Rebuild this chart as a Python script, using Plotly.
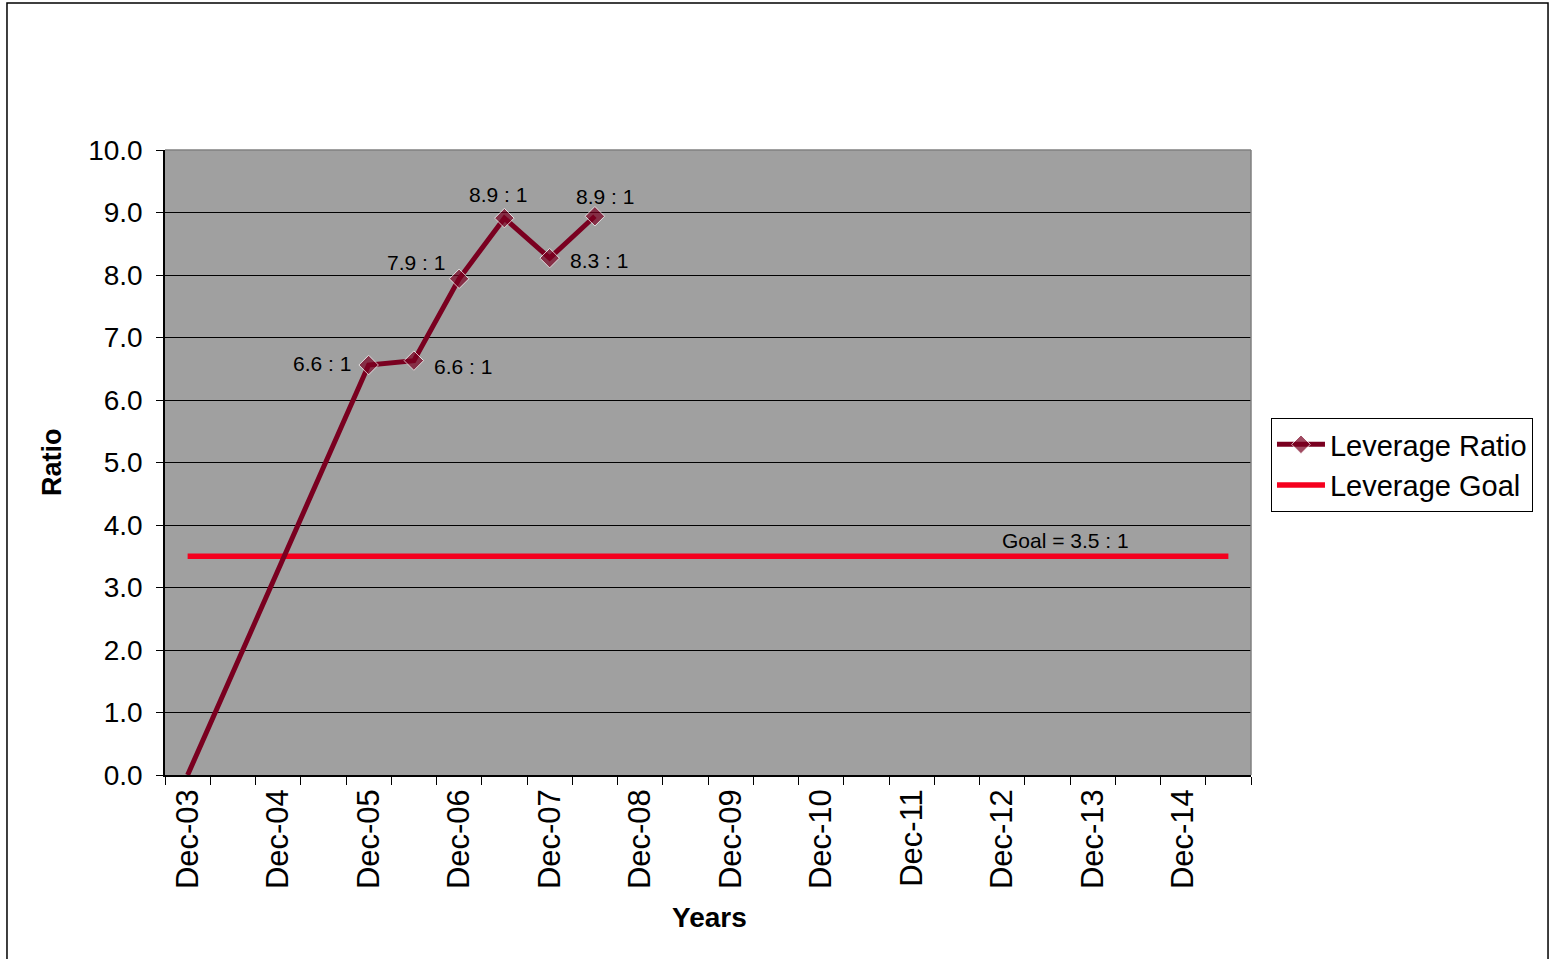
import plotly.graph_objects as go

# Half-yearly periods, Dec-03 through Jun-15
periods = []
for yr in range(3, 16):
    if yr > 3:
        periods.append(f"Jun-{yr:02d}")
    if yr < 15:
        periods.append(f"Dec-{yr:02d}")

# Leverage ratio observations (None = no reading for that period)
leverage_ratio = [0.0, None, None, None, 6.56, 6.63, 7.94, 8.91, 8.27, 8.94,
                  None, None, None, None, None, None, None, None, None, None,
                  None, None, None, None]
goal_value = 3.5
leverage_goal = [goal_value] * len(periods)

# Per-point data-label placement (x shift, y shift, anchor)
label_style = {
    4: (-16, 2, "right"),
    5: (18, -6, "left"),
    6: (-12, 16, "right"),
    7: (-6, 24, "center"),
    8: (18, -2, "left"),
    9: (10, 20, "center"),
}

MAROON = "#7A0020"
RED = "#F5001E"
FONT = "Liberation Sans, Arial, sans-serif"

x_idx = list(range(len(periods)))

fig = go.Figure()

fig.add_trace(go.Scatter(
    x=x_idx, y=leverage_goal, mode="lines", name="Leverage Goal",
    line=dict(color=RED, width=5.5), hoverinfo="skip",
))

marker_sizes = [0 if (i == 0) else 15 for i in x_idx]
fig.add_trace(go.Scatter(
    x=x_idx, y=leverage_ratio, mode="lines+markers", name="Leverage Ratio",
    connectgaps=True,
    line=dict(color=MAROON, width=5),
    marker=dict(symbol="diamond", size=marker_sizes, color=MAROON),
    cliponaxis=False,
))

annotations = []
for i, v in enumerate(leverage_ratio):
    if v is None or i not in label_style:
        continue
    dx, dy, anchor = label_style[i]
    annotations.append(dict(
        x=i, y=v, xref="x", yref="y", text=f"{v:.1f} : 1", showarrow=False,
        xanchor=anchor, yanchor="middle", xshift=dx, yshift=dy,
        font=dict(family=FONT, size=21, color="black"),
    ))

annotations.append(dict(
    x=19.39, y=goal_value, xref="x", yref="y", text=f"Goal = {goal_value} : 1",
    showarrow=False, xanchor="center", yanchor="middle", yshift=16,
    font=dict(family=FONT, size=21, color="black"),
))

annotations.append(dict(
    x=0.5018, y=-0.2272, xref="paper", yref="paper", text="<b>Years</b>",
    showarrow=False, xanchor="center", yanchor="middle",
    font=dict(family=FONT, size=28, color="black"),
))
annotations.append(dict(
    x=-0.104, y=0.5008, xref="paper", yref="paper", text="<b>Ratio</b>",
    showarrow=False, xanchor="center", yanchor="middle", textangle=-90,
    font=dict(family=FONT, size=27, color="black"),
))

shapes = [
    # outer frame
    dict(type="rect", xref="paper", yref="paper", x0=-0.1455, x1=1.2735,
         y0=-0.31, y1=1.2352, line=dict(color="black", width=1.5), layer="below"),
    # top and right edges of the plot area
    dict(type="line", xref="paper", yref="paper", x0=0, x1=1, y0=1, y1=1,
         line=dict(color="#808080", width=1.5)),
    dict(type="line", xref="paper", yref="paper", x0=1, x1=1, y0=0, y1=1,
         line=dict(color="#808080", width=1.5)),
]

fig.update_layout(
    width=1552, height=959,
    margin=dict(l=165, r=301, t=150, b=184),
    paper_bgcolor="white",
    plot_bgcolor="#A0A0A0",
    font=dict(family=FONT, color="black"),
    showlegend=True,
    legend=dict(
        x=1.0184, y=0.5712, xanchor="left", yanchor="top",
        bgcolor="white", bordercolor="black", borderwidth=1,
        font=dict(family=FONT, size=29, color="black"),
        traceorder="reversed", itemwidth=48,
    ),
    annotations=annotations,
    shapes=shapes,
)

fig.update_xaxes(
    range=[-0.5, len(periods) - 0.5],
    tickmode="array",
    tickvals=x_idx[::2],
    ticktext=periods[::2],
    ticks="",
    tickangle=-90,
    tickfont=dict(family=FONT, size=31, color="black"),
    ticklabelstandoff=0,
    showgrid=False, zeroline=False,
    showline=True, linecolor="black", linewidth=1.5,
    minor=dict(tickmode="array", tickvals=[i - 0.5 for i in range(len(periods) + 1)],
               ticks="outside", ticklen=8, tickcolor="black", tickwidth=1,
               showgrid=False),
    automargin=False,
)

fig.update_yaxes(
    range=[0, 10],
    dtick=1, tick0=0,
    tickformat=".1f",
    ticks="outside", ticklen=7, tickcolor="black", tickwidth=1,
    tickfont=dict(family=FONT, size=28, color="black"),
    ticklabelstandoff=8,
    showgrid=True, gridcolor="black", gridwidth=1,
    zeroline=False,
    showline=True, linecolor="black", linewidth=1.5,
    automargin=False,
)

fig.write_html("out.html")
